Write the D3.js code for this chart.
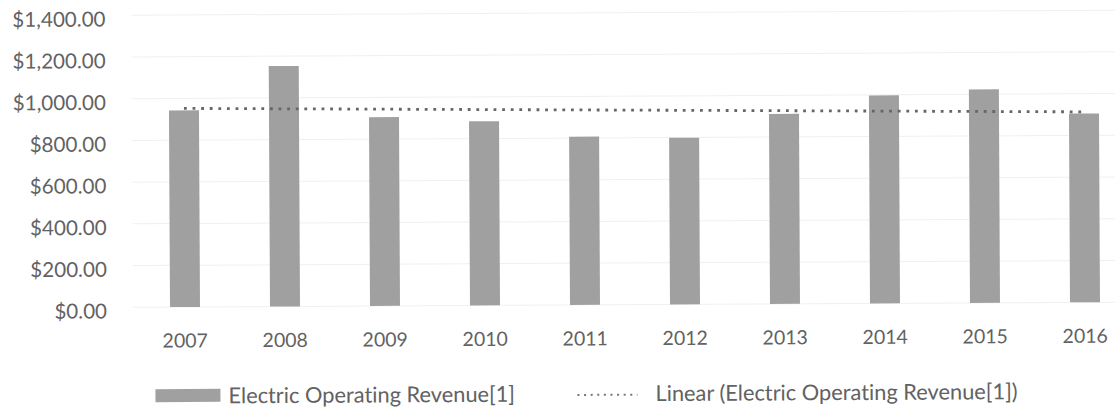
<!DOCTYPE html>
<html>
<head>
<meta charset="utf-8">
<script src="https://cdn.jsdelivr.net/npm/d3@7"></script>
<style>
  body { margin: 0; background: #fff; }
  text { font-family: Lato, "Open Sans", sans-serif; fill: #626262; font-variant-ligatures: none; }
</style>
</head>
<body>
<svg id="chart"></svg>
<script>
var w = 1115;
var h = 413;

var years = ['2007', '2008', '2009', '2010', '2011', '2012', '2013', '2014', '2015', '2016'];
var revenue = [943, 1153, 905, 883, 807, 799, 911, 997, 1023, 905];
var yTicks = [0, 200, 400, 600, 800, 1000, 1200, 1400];
var seriesName = 'Electric Operating Revenue[1]';
var trendName = 'Linear (Electric Operating Revenue[1])';

var svg = d3.select('#chart').attr('width', w).attr('height', h);

// scanned page is slightly tilted
var g = svg.append('g').attr('transform', 'rotate(-0.3, 185, 307)');

var x = d3.scaleBand()
  .domain(years)
  .range([135, 1135])
  .paddingInner(0.7)
  .paddingOuter(0.35);

var y = d3.scaleLinear()
  .domain([0, 1400])
  .range([307, 15]);

var fmt = d3.format('$,.2f');

// gridlines
g.selectAll('line.grid')
  .data(yTicks)
  .enter()
  .append('line')
  .attr('class', 'grid')
  .attr('x1', 133)
  .attr('x2', 1140)
  .attr('y1', function (d) { return y(d); })
  .attr('y2', function (d) { return y(d); })
  .style('stroke', '#f0f0f0')
  .style('stroke-width', 1);

// y labels
g.selectAll('text.ylab')
  .data(yTicks)
  .enter()
  .append('text')
  .attr('class', 'ylab')
  .attr('x', 107)
  .attr('y', function (d) { return y(d) + 3; })
  .attr('text-anchor', 'end')
  .attr('dominant-baseline', 'central')
  .style('font-size', '20.6px')
  .text(function (d) { return fmt(d); });

// bars
g.selectAll('rect.bar')
  .data(revenue)
  .enter()
  .append('rect')
  .attr('class', 'bar')
  .attr('x', function (d, i) { return x(years[i]); })
  .attr('y', function (d) { return y(d); })
  .attr('width', x.bandwidth())
  .attr('height', function (d) { return y(0) - y(d); })
  .style('fill', '#a0a0a0');

// x labels
g.selectAll('text.xlab')
  .data(years)
  .enter()
  .append('text')
  .attr('class', 'xlab')
  .attr('x', function (d) { return x(d) + x.bandwidth() / 2; })
  .attr('y', 340)
  .attr('text-anchor', 'middle')
  .attr('dominant-baseline', 'central')
  .style('font-size', '19.5px')
  .text(function (d) { return d; });

// linear trend (least squares over the bars)
var n = revenue.length;
var mx = d3.mean(revenue, function (d, i) { return i; });
var my = d3.mean(revenue);
var sxy = d3.sum(revenue, function (d, i) { return (i - mx) * (d - my); });
var sxx = d3.sum(revenue, function (d, i) { return (i - mx) * (i - mx); });
var slope = sxy / sxx;
var icpt = my - slope * mx;

var trend = [0, n - 1].map(function (i) {
  return { x: x(years[i]) + x.bandwidth() / 2, v: icpt + slope * i };
});

g.append('path')
  .datum(trend)
  .attr('d', d3.line()
    .x(function (d) { return d.x; })
    .y(function (d) { return y(d.v); }))
  .style('fill', 'none')
  .style('stroke', '#666')
  .style('stroke-width', 2.8)
  .style('stroke-dasharray', '2.8,5.8');

// legend
var leg = g.append('g');
leg.append('rect')
  .attr('x', 155).attr('y', 389)
  .attr('width', 65).attr('height', 13)
  .style('fill', '#a0a0a0');
leg.append('text')
  .attr('x', 228).attr('y', 395)
  .attr('dominant-baseline', 'central')
  .style('font-size', '21.8px')
  .text(seriesName);
leg.append('line')
  .attr('x1', 577).attr('x2', 637)
  .attr('y1', 397).attr('y2', 397)
  .style('stroke', '#777')
  .style('stroke-width', 2)
  .style('stroke-dasharray', '2,4.6');
leg.append('text')
  .attr('x', 655).attr('y', 395)
  .attr('dominant-baseline', 'central')
  .style('font-size', '21.8px')
  .text(trendName);
</script>
</body>
</html>
